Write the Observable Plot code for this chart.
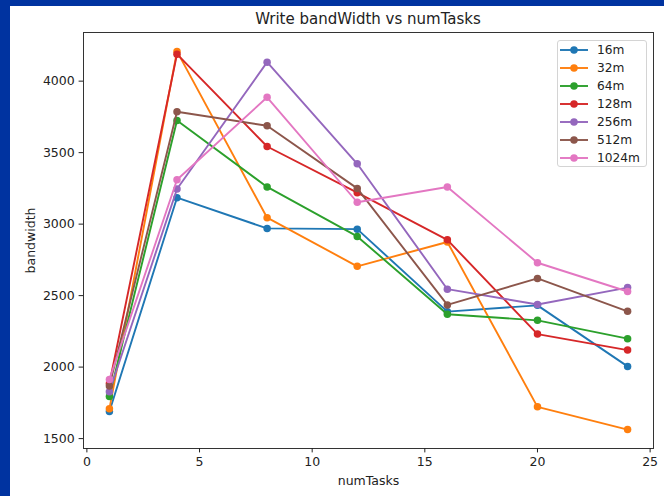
<!DOCTYPE html>
<html>
<head>
<meta charset="utf-8">
<script src="https://cdn.jsdelivr.net/npm/d3@7"></script>
<script src="https://cdn.jsdelivr.net/npm/@observablehq/plot@0.6"></script>
<style>
  html, body { margin: 0; padding: 0; width: 664px; height: 496px; overflow: hidden; background: #0033a0; }
  #panel { position: absolute; left: 10px; top: 6px; width: 654px; height: 490px; background: #fff;
           font-family: "DejaVu Sans", sans-serif; color: #222; }
  #title { position: absolute; left: 73px; width: 570px; top: 6px; height: 15px; line-height: 15px;
           font-size: 15px; text-align: center; white-space: nowrap; }
  #chart { position: absolute; left: 0; top: 25px; }
  #legend { position: absolute; left: 547px; top: 34px; width: 90px; height: 127px; box-sizing: border-box;
            border: 1px solid #d4d4d4; border-radius: 3px; background: rgba(255,255,255,0.85); padding-top: 0.5px; }
  .row { height: 17.9px; display: flex; align-items: center; font-size: 12.2px; }
  .row svg { margin-left: 2px; margin-right: 9px; flex: none; }
</style>
</head>
<body>
<div id="panel">
  <div id="title">Write bandWidth vs numTasks</div>
  <div id="chart"></div>
  <div id="legend"></div>
</div>
<script>
// Write bandwidth measured per file size, for each number of tasks
const numTasks = [1, 4, 8, 12, 16, 20, 24];
const sizes = ["16m", "32m", "64m", "128m", "256m", "512m", "1024m"];
const bw16m   = [1690, 3185, 2970, 2965, 2388, 2432, 2005];
const bw32m   = [1708, 4208, 3045, 2705, 2875, 1722, 1563];
const bw64m   = [1795, 3725, 3260, 2914, 2370, 2327, 2199];
const bw128m  = [1885, 4189, 3543, 3220, 2890, 2231, 2119];
const bw256m  = [1828, 3246, 4133, 3422, 2545, 2438, 2556];
const bw512m  = [1868, 3786, 3688, 3250, 2435, 2620, 2390];
const bw1024m = [1914, 3310, 3887, 3153, 3260, 2730, 2529];
const xTicks = [0, 5, 10, 15, 20, 25];
const yTicks = [1500, 2000, 2500, 3000, 3500, 4000];
const colors = ["#1f77b4", "#ff7f0e", "#2ca02c", "#d62728", "#9467bd", "#8c564b", "#e377c2"];

const seriesValues = [bw16m, bw32m, bw64m, bw128m, bw256m, bw512m, bw1024m];
const series = sizes.map((size, i) =>
  numTasks.map((n, j) => ({ size, numTasks: n, bandwidth: seriesValues[i][j] }))
);

// 5% padding around the data range on both axes
const pad = ([a, b]) => [a - (b - a) * 0.05, b + (b - a) * 0.05];
const xDomain = pad(d3.extent(numTasks));
const yDomain = pad(d3.extent(seriesValues.flat()));

// each series draws its line then its markers, later series on top
const seriesMarks = series.flatMap((rows, i) => [
  Plot.line(rows, { x: "numTasks", y: "bandwidth", stroke: colors[i], strokeWidth: 1.9 }),
  Plot.dot(rows, { x: "numTasks", y: "bandwidth", fill: colors[i], r: 3.75 })
]);

const chart = Plot.plot({
  width: 654,
  height: 465,
  marginLeft: 73,
  marginRight: 11,
  marginTop: 1,
  marginBottom: 48,
  style: { fontFamily: "DejaVu Sans, sans-serif", fontSize: "12.5px", color: "#222", background: "transparent" },
  x: { domain: xDomain },
  y: { domain: yDomain },
  marks: [
    ...seriesMarks,
    Plot.frame({ stroke: "#333", strokeWidth: 1 }),
    Plot.axisX(xTicks, { tickSize: 4.4, tickPadding: 4.4, tickFormat: "d", label: "numTasks",
                         labelAnchor: "center", labelArrow: "none", labelOffset: 36 }),
    Plot.axisY(yTicks, { tickSize: 4.4, tickPadding: 4.4, tickFormat: "d", label: "bandwidth",
                         labelAnchor: "center", labelArrow: "none", labelOffset: 57 })
  ]
});
document.getElementById("chart").appendChild(chart);

// legend box in the upper right of the axes
const legend = d3.select("#legend");
sizes.forEach((size, i) => {
  const row = legend.append("div").attr("class", "row");
  const sw = row.append("svg").attr("width", 28).attr("height", 10);
  sw.append("line").attr("x1", 0).attr("x2", 28).attr("y1", 5).attr("y2", 5)
    .attr("stroke", colors[i]).attr("stroke-width", 1.9);
  sw.append("circle").attr("cx", 14).attr("cy", 5).attr("r", 3.75).attr("fill", colors[i]);
  row.append("span").text(size);
});
</script>
</body>
</html>
